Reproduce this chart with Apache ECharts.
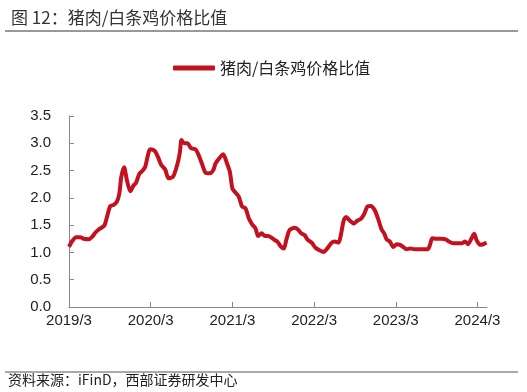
<!DOCTYPE html>
<html>
<head>
<meta charset="utf-8">
<script src="https://cdn.jsdelivr.net/npm/echarts@6/dist/echarts.min.js"></script>
<style>
html,body{margin:0;padding:0;background:#fff;}
#c{width:527px;height:392px;}
</style>
</head>
<body>
<div id="c"></div>
<script>
var titleText = '图 12：猪肉/白条鸡价格比值';
var sourceText = '资料来源：iFinD，西部证券研发中心';
var seriesName = '猪肉/白条鸡价格比值';
var tickLabels = ['2019/3','2020/3','2021/3','2022/3','2023/3','2024/3'];
var yTicks = ['0.0','0.5','1.0','1.5','2.0','2.5','3.0','3.5'];

var dates = [
'2019-03-01','2019-03-14','2019-04-02','2019-04-21','2019-05-06','2019-05-28','2019-06-12','2019-06-27',
'2019-07-12','2019-07-27','2019-08-08','2019-08-18','2019-09-03','2019-09-18','2019-10-02','2019-10-13',
'2019-10-22','2019-11-04','2019-11-16','2019-12-01','2019-12-16','2019-12-26','2020-01-11','2020-01-26',
'2020-02-07','2020-02-19','2020-02-29','2020-03-19','2020-04-03','2020-04-18','2020-05-05','2020-05-20',
'2020-06-10','2020-06-30','2020-07-10','2020-07-17','2020-07-29','2020-08-14','2020-08-29','2020-09-19',
'2020-09-30','2020-10-16','2020-11-03','2020-11-22','2020-12-07','2020-12-17','2021-01-06','2021-01-21',
'2021-02-05','2021-02-20','2021-03-01','2021-03-12','2021-03-30','2021-04-14','2021-04-29','2021-05-14',
'2021-05-29','2021-06-13','2021-06-25','2021-07-10','2021-07-25','2021-08-09','2021-08-27','2021-09-10',
'2021-09-19','2021-10-06','2021-10-18','2021-10-29','2021-11-13','2021-12-05','2021-12-20','2022-01-04',
'2022-01-19','2022-02-03','2022-02-21','2022-03-06','2022-03-25','2022-04-14','2022-04-29','2022-05-17',
'2022-06-01','2022-06-19','2022-06-28','2022-07-12','2022-07-23','2022-08-07','2022-08-27','2022-09-11',
'2022-09-29','2022-10-14','2022-10-26','2022-11-10','2022-11-28','2022-12-13','2022-12-29','2023-01-10',
'2023-01-21','2023-02-05','2023-02-20','2023-03-05','2023-03-20','2023-04-04','2023-04-19','2023-05-04',
'2023-05-26','2023-06-25','2023-07-22','2023-08-02','2023-08-12','2023-09-01','2023-09-23','2023-10-11',
'2023-10-26','2023-11-14','2023-12-06','2023-12-24','2024-01-06','2024-01-20','2024-02-05','2024-02-17',
'2024-02-27','2024-03-12','2024-03-27','2024-04-11'
];
var ratio = [
1.10,1.20,1.28,1.28,1.25,1.24,1.28,1.36,
1.42,1.46,1.50,1.64,1.85,1.87,1.93,2.08,
2.39,2.56,2.33,2.12,2.23,2.27,2.44,2.50,
2.57,2.78,2.89,2.86,2.75,2.60,2.52,2.36,
2.39,2.63,2.84,3.06,3.00,3.00,2.91,2.89,
2.81,2.64,2.46,2.45,2.51,2.63,2.74,2.80,
2.66,2.48,2.17,2.11,2.02,1.84,1.81,1.62,
1.51,1.44,1.30,1.35,1.30,1.30,1.26,1.22,
1.20,1.10,1.07,1.23,1.41,1.45,1.42,1.35,
1.32,1.23,1.18,1.09,1.04,1.01,1.07,1.17,
1.20,1.18,1.29,1.59,1.65,1.59,1.53,1.58,
1.62,1.72,1.84,1.85,1.78,1.62,1.42,1.35,
1.24,1.20,1.10,1.15,1.14,1.10,1.06,1.07,
1.06,1.06,1.06,1.14,1.26,1.25,1.25,1.24,
1.20,1.17,1.17,1.17,1.20,1.15,1.26,1.34,
1.23,1.14,1.15,1.18
];

function monthOffset(s){
  var p = s.split('-');
  return (parseInt(p[0],10)-2019)*12 + (parseInt(p[1],10)-3) + (parseInt(p[2],10)-1)/30.5;
}
var points = dates.map(function(d,i){ return [monthOffset(d), ratio[i]]; });
var xTickVals = tickLabels.map(function(t){ var p=t.split('/'); return (parseInt(p[0],10)-2019)*12 + (parseInt(p[1],10)-3); });

var chart = echarts.init(document.getElementById('c'), null, {renderer:'canvas'});
var font = '"Liberation Sans", Arial, "Noto Sans CJK SC", sans-serif';
var cjk = '"Noto Sans CJK SC", "Liberation Sans", sans-serif';
chart.setOption({
  animation:false,
  backgroundColor:'#fff',
  title:{
    text:titleText, left:6, top:4,
    textStyle:{fontFamily:cjk, fontSize:17, fontWeight:'normal', color:'#333'}
  },
  legend:{
    data:[seriesName], left:168, top:55,
    icon:'roundRect', itemWidth:42, itemHeight:5, itemGap:10,
    textStyle:{fontFamily:cjk, fontSize:16, color:'#222'}
  },
  grid:{left:69, right:40, top:116, bottom:85, containLabel:false},
  xAxis:{
    type:'value', min:0, max:61.4,
    axisLine:{lineStyle:{color:'#888', width:1}},
    axisTick:{show:true, inside:true, length:5, lineStyle:{color:'#888'}, customValues:xTickVals},
    axisLabel:{customValues:xTickVals, margin:6, color:'#222', fontFamily:font, fontSize:15,
      formatter:function(v){ var i = xTickVals.indexOf(Math.round(v)); return i>=0 ? tickLabels[i] : ''; }},
    splitLine:{show:false}
  },
  yAxis:{
    type:'value', min:0, max:3.5, interval:0.5,
    axisLine:{show:true, lineStyle:{color:'#888', width:1}},
    axisTick:{show:true, inside:true, length:5, lineStyle:{color:'#888'}},
    axisLabel:{margin:18, color:'#222', fontFamily:font, fontSize:15,
      formatter:function(v){ return yTicks[Math.round(v/0.5)]; }},
    splitLine:{show:false}
  },
  graphic:[
    {type:'line', shape:{x1:5, y1:31, x2:518, y2:31}, style:{stroke:'#333', lineWidth:1}},
    {type:'line', shape:{x1:5, y1:372, x2:518, y2:372}, style:{stroke:'#555', lineWidth:1}},
    {type:'text', left:8, top:373, style:{text:sourceText, font:'14px "Noto Sans CJK SC", sans-serif', fill:'#222'}}
  ],
  series:[{
    name:seriesName, type:'line', data:points, showSymbol:false, symbol:'none',
    smooth:0.25,
    lineStyle:{color:'#c3121f', width:4},
    itemStyle:{color:'#c3121f'}
  }]
});
</script>
</body>
</html>
